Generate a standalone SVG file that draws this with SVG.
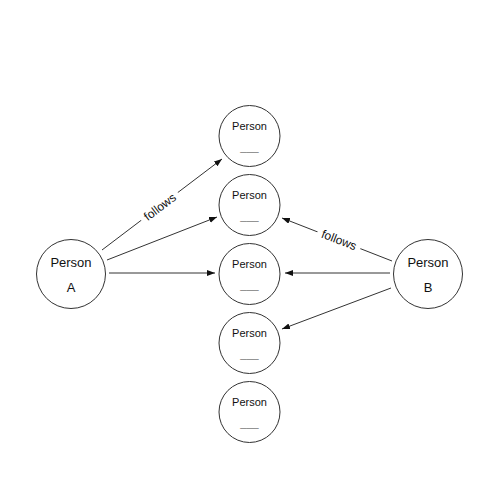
<svg xmlns="http://www.w3.org/2000/svg" width="480" height="480" viewBox="0 0 480 480">
<style>
.node circle{fill:#fff;stroke:#333;stroke-width:1}
.t{font-family:"Liberation Sans",Arial,sans-serif;fill:#111;text-anchor:middle}
.big{font-size:13px}
.small{font-size:11px}
.blank{font-size:11px;fill:#777}
.edge{stroke:#333;stroke-width:1;fill:none;marker-end:url(#arr)}
.lbl{font-family:"Liberation Sans",Arial,sans-serif;font-size:12px;fill:#111;text-anchor:middle}
</style>
<defs>
<marker id="arr" markerUnits="userSpaceOnUse" markerWidth="9" markerHeight="7" refX="8" refY="3" orient="auto">
<path d="M0,0 L8,3 L0,6 z" fill="#111"/>
</marker>
</defs>
<rect width="480" height="480" fill="#fff"/>
<g id="connectors">
<line class="edge" x1="102" y1="250" x2="222" y2="159"/>
<line class="edge" x1="107" y1="260" x2="217" y2="217"/>
<line class="edge" x1="109" y1="273" x2="215" y2="273"/>
<line class="edge" x1="392" y1="261" x2="282" y2="218"/>
<line class="edge" x1="390" y1="273" x2="285" y2="273"/>
<line class="edge" x1="391" y1="288" x2="282" y2="329"/>
<g transform="translate(160,207) rotate(-37.1)">
<rect x="-23" y="-8" width="46" height="14" fill="#fff"/>
<text class="lbl" x="0" y="4">follows</text>
</g>
<g transform="translate(339,240) rotate(21.1)">
<rect x="-23" y="-8" width="46" height="14" fill="#fff"/>
<text class="lbl" x="0" y="4">follows</text>
</g>
</g>
<g id="personA" class="node">
<circle cx="71" cy="274" r="34.5"/>
<text class="t big" x="71" y="267">Person</text>
<text class="t big" x="71" y="292">A</text>
</g>
<g id="personB" class="node">
<circle cx="428" cy="274" r="34.5"/>
<text class="t big" x="428" y="267">Person</text>
<text class="t big" x="428" y="292">B</text>
</g>
<g id="p1" class="node">
<circle cx="249.5" cy="136" r="30.5"/>
<text class="t small" x="249.5" y="129.5">Person</text>
<text class="t blank" x="249.5" y="151">___</text>
</g>
<g id="p2" class="node">
<circle cx="249.5" cy="205" r="30.5"/>
<text class="t small" x="249.5" y="198.5">Person</text>
<text class="t blank" x="249.5" y="220">___</text>
</g>
<g id="p3" class="node">
<circle cx="249.5" cy="274" r="30.5"/>
<text class="t small" x="249.5" y="267.5">Person</text>
<text class="t blank" x="249.5" y="289">___</text>
</g>
<g id="p4" class="node">
<circle cx="249.5" cy="343" r="30.5"/>
<text class="t small" x="249.5" y="336.5">Person</text>
<text class="t blank" x="249.5" y="358">___</text>
</g>
<g id="p5" class="node">
<circle cx="249.5" cy="412" r="30.5"/>
<text class="t small" x="249.5" y="405.5">Person</text>
<text class="t blank" x="249.5" y="427">___</text>
</g>
</svg>
